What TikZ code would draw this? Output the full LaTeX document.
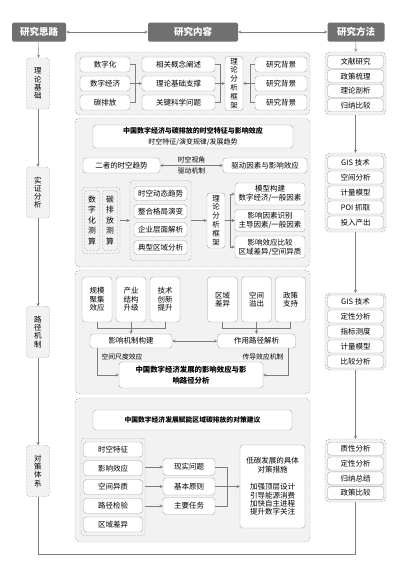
\documentclass[tikz,border=0pt]{standalone}
\usepackage{fontspec}
\setmainfont{Noto Sans CJK SC}
\usetikzlibrary{shapes.geometric, arrows, positioning}
\definecolor{headgray}{RGB}{112,112,112}
\definecolor{panelgray}{RGB}{242,242,242}
\definecolor{boxgray}{RGB}{165,165,165}
\definecolor{linegray}{RGB}{125,125,125}
\tikzstyle{head} = [rectangle, rounded corners=1.5pt, fill=headgray, text=white, font=\fontsize{9.5}{11}\selectfont\bfseries, minimum height=19pt, inner sep=0pt]
\tikzstyle{panel} = [rectangle, rounded corners=5pt, draw=boxgray, dash pattern=on 2pt off 1.2pt, fill=panelgray, inner sep=0pt]
\tikzstyle{dashgroup} = [rectangle, rounded corners=3pt, draw=boxgray, dash pattern=on 2pt off 1.2pt, inner sep=0pt, align=center]
\tikzstyle{stage} = [dashgroup, fill=panelgray, minimum width=23pt, minimum height=51pt, font=\fontsize{7.5}{8.2}\selectfont]
\tikzstyle{item} = [rectangle, rounded corners=3pt, draw=boxgray, fill=white, inner sep=0pt, align=center, font=\fontsize{7.5}{9}\selectfont]
\tikzstyle{method} = [item, minimum width=56pt, minimum height=13pt]
\tikzstyle{tag} = [font=\fontsize{6.8}{8}\selectfont, inner sep=1pt]
\tikzstyle{arrow} = [->, >=stealth, draw=linegray]
\tikzstyle{link} = [draw=linegray]

\begin{document}
\begin{tikzpicture}[x=1pt, y=-1pt]
\useasboundingbox (0,0) rectangle (400,566);

\node (siLu) [head, minimum width=54pt] at (39,32) {研究思路};
\node (neiRong) [head, minimum width=90pt] at (193,32) {研究内容};
\node (fangFa) [head, minimum width=57pt] at (356,32) {研究方法};

\node (jiChu) [stage] at (38,83.5) {理\\论\\基\\础};
\node (shiZheng) [stage] at (38,192.5) {实\\证\\分\\析};
\node (luJing) [stage] at (38,332) {路\\径\\机\\制};
\node (duiCe) [stage] at (38,471) {对\\策\\体\\系};

\node (sec1) [panel, minimum width=235pt, minimum height=63pt] at (192.5,83.5) {};
\node (sec2) [panel, minimum width=235pt, minimum height=149pt] at (192.5,192.5) {};
\node (sec3) [panel, minimum width=235pt, minimum height=124pt] at (192.5,332) {};
\node (sec4) [panel, minimum width=235pt, minimum height=144pt] at (192.5,470) {};

\node (fm1) [panel, minimum width=61pt, minimum height=63pt] at (355.5,83.5) {};
\node (fm2) [panel, minimum width=61pt, minimum height=79pt] at (355.5,192.5) {};
\node (fm3) [panel, minimum width=61pt, minimum height=77pt] at (355.5,331.5) {};
\node (fm4) [panel, minimum width=61pt, minimum height=63pt] at (355.5,470.5) {};

\node (wenXian) [method] at (355.5,61.75) {文献研究};
\node (zhengCe) [method, below of=wenXian, node distance=14.5pt] {政策梳理};
\node (pouXi) [method, below of=zhengCe, node distance=14.5pt] {理论剖析};
\node (guiNa) [method, below of=pouXi, node distance=14.5pt] {归纳比较};

\node (gisA) [method] at (355.5,162.5) {GIS 技术};
\node (kongJian) [method, below of=gisA, node distance=15pt] {空间分析};
\node (jiLiangA) [method, below of=kongJian, node distance=15pt] {计量模型};
\node (poi) [method, below of=jiLiangA, node distance=15pt] {POI 抓取};
\node (touRu) [method, below of=poi, node distance=15pt] {投入产出};

\node (gisB) [method] at (355.5,301.5) {GIS 技术};
\node (dingXingA) [method, below of=gisB, node distance=15pt] {定性分析};
\node (zhiBiao) [method, below of=dingXingA, node distance=15pt] {指标测度};
\node (jiLiangB) [method, below of=zhiBiao, node distance=15pt] {计量模型};
\node (biJiao) [method, below of=jiLiangB, node distance=15pt] {比较分析};

\node (zhiXing) [method] at (355.5,448.7) {质性分析};
\node (dingXingB) [method, below of=zhiXing, node distance=14.8pt] {定性分析};
\node (zongJie) [method, below of=dingXingB, node distance=14.8pt] {归纳总结};
\node (zhengCeBj) [method, below of=zongJie, node distance=14.8pt] {政策比较};

\node (shuZiHua) [item, minimum width=50pt, minimum height=15pt] at (105,64.5) {数字化};
\node (shuZiJingJi) [item, minimum width=50pt, minimum height=15pt, below of=shuZiHua, node distance=19pt] {数字经济};
\node (tanPaiFang) [item, minimum width=50pt, minimum height=15pt, below of=shuZiJingJi, node distance=19pt] {碳排放};
\node (gaiNian) [item, minimum width=73pt, minimum height=15pt] at (178.5,64.5) {相关概念阐述};
\node (zhiCheng) [item, minimum width=73pt, minimum height=15pt, below of=gaiNian, node distance=19pt] {理论基础支撑};
\node (wenTi) [item, minimum width=73pt, minimum height=15pt, below of=zhiCheng, node distance=19pt] {关键科学问题};
\node (kuangJiaA) [item, minimum width=18pt, minimum height=54pt, font=\fontsize{7.5}{8.8}\selectfont] at (234,83.5) {理\\论\\分\\析\\框\\架};
\node (beiJingA) [item, minimum width=52pt, minimum height=15pt] at (281,64.5) {研究背景};
\node (beiJingB) [item, minimum width=52pt, minimum height=15pt, below of=beiJingA, node distance=19pt] {研究背景};
\node (beiJingC) [item, minimum width=52pt, minimum height=15pt, below of=beiJingB, node distance=19pt] {研究背景};
\coordinate (jA) at (135,83.5);
\coordinate (jB) at (220,83.5);
\coordinate (jC) at (250,83.5);

\node (tiMuA) [item, minimum width=200pt, minimum height=23pt, font=\fontsize{7}{11}\selectfont] at (193,136.5) {\bfseries 中国数字经济与碳排放的时空特征与影响效应\\时空特征/演变规律/发展趋势};
\node (erZhe) [item, minimum width=77pt, minimum height=15pt] at (121.5,165.5) {二者的时空趋势};
\node (quDong) [item, minimum width=84pt, minimum height=15pt] at (265,165.5) {驱动因素与影响效应};
\node (ceSuan) [dashgroup, minimum width=38pt, minimum height=66pt] at (101,220.5) {};
\node (ceSuanA) [dashgroup, minimum width=15pt, minimum height=60pt, font=\fontsize{7.8}{10.5}\selectfont] at (92,220.5) {数\\字\\化\\测\\算};
\node (ceSuanB) [dashgroup, minimum width=15pt, minimum height=60pt, font=\fontsize{7.8}{10.5}\selectfont] at (110,220.5) {碳\\排\\放\\测\\算};
\node (qushi) [dashgroup, minimum width=61pt, minimum height=80pt] at (160.5,220.5) {};
\node (dongTai) [item, minimum width=53pt, minimum height=14pt] at (160.5,193.5) {时空动态趋势};
\node (geJu) [item, minimum width=53pt, minimum height=14pt, below of=dongTai, node distance=18pt] {整合格局演变};
\node (qiYe) [item, minimum width=53pt, minimum height=14pt, below of=geJu, node distance=18pt] {企业层面解析};
\node (dianXing) [item, minimum width=53pt, minimum height=14pt, below of=qiYe, node distance=18pt] {典型区域分析};
\node (kuangJiaB) [item, minimum width=18pt, minimum height=55pt, font=\fontsize{7.5}{8.8}\selectfont] at (216,220.5) {理\\论\\分\\析\\框\\架};
\node (moXing) [item, minimum width=70pt, minimum height=22pt] at (270,194) {模型构建\\数字经济/一般因素};
\node (shiBie) [item, minimum width=70pt, minimum height=22pt, below of=moXing, node distance=26.5pt] {影响因素识别\\主导因素/一般因素};
\node (xiaoYing) [item, minimum width=70pt, minimum height=22pt, below of=shiBie, node distance=26.5pt] {影响效应比较\\区域差异/空间异质};
\coordinate (jD) at (230,220.5);

\node (guiMo) [item, minimum width=30pt, minimum height=45pt, font=\fontsize{7.5}{8.6}\selectfont] at (97,299.5) {规模\\聚集\\效应};
\node (chanYe) [item, minimum width=30pt, minimum height=45pt, font=\fontsize{7.5}{8.6}\selectfont] at (131,299.5) {产业\\结构\\升级};
\node (jiShu) [item, minimum width=30pt, minimum height=45pt, font=\fontsize{7.5}{8.6}\selectfont] at (165,299.5) {技术\\创新\\提升};
\node (quYu) [item, minimum width=30pt, minimum height=45pt, font=\fontsize{7.5}{8.6}\selectfont] at (222.5,299.5) {区域\\差异};
\node (yiChu) [item, minimum width=30pt, minimum height=45pt, font=\fontsize{7.5}{8.6}\selectfont] at (256.5,299.5) {空间\\溢出};
\node (zhiChi) [item, minimum width=30pt, minimum height=45pt, font=\fontsize{7.5}{8.6}\selectfont] at (290.5,299.5) {政策\\支持};
\node (jiZhi) [item, minimum width=82pt, minimum height=14pt] at (131,341) {影响机制构建};
\node (zuoYong) [item, minimum width=78pt, minimum height=14pt] at (256.5,341) {作用路径解析};
\node (lujingFx) [item, minimum width=144pt, minimum height=26pt, font=\fontsize{7.4}{10.5}\selectfont\bfseries] at (191,375) {中国数字经济发展的影响效应与影\\响路径分析};
\node (chiDu) [tag] at (122,357) {空间尺度效应};
\node (chuanDao) [tag] at (263,357) {传导效应机制};
\coordinate (jE) at (131,328);
\coordinate (jF) at (256.5,328);

\node (tiMuB) [item, minimum width=199pt, minimum height=20pt, font=\fontsize{6.8}{8}\selectfont\bfseries] at (192.5,420) {中国数字经济发展赋能区域碳排放的对策建议};
\node (jieGuo) [dashgroup, minimum width=64pt, minimum height=97pt] at (113,487) {};
\node (teZheng) [item, minimum width=59pt, minimum height=15pt] at (113,449.5) {时空特征};
\node (yingXiang) [item, minimum width=59pt, minimum height=15pt, below of=teZheng, node distance=18.75pt] {影响效应};
\node (yiZhi) [item, minimum width=59pt, minimum height=15pt, below of=yingXiang, node distance=18.75pt] {空间异质};
\node (jianYan) [item, minimum width=59pt, minimum height=15pt, below of=yiZhi, node distance=18.75pt] {路径检验};
\node (chaYi) [item, minimum width=59pt, minimum height=15pt, below of=jianYan, node distance=18.75pt] {区域差异};
\node (xianShi) [item, minimum width=52pt, minimum height=17pt] at (189,467) {现实问题};
\node (yuanZe) [item, minimum width=52pt, minimum height=17pt, below of=xianShi, node distance=19.5pt] {基本原则};
\node (renWu) [item, minimum width=52pt, minimum height=17pt, below of=yuanZe, node distance=19.5pt] {主要任务};
\node (cuoShi) [item, minimum width=65pt, minimum height=83pt, font=\fontsize{7.5}{8.4}\selectfont] at (272.5,486.5) {低碳发展的具体\\对策措施\\[9pt]加强顶层设计\\引导能源消费\\加快自主进程\\提升数字关注};
\coordinate (jG) at (227,486.5);

\coordinate (loopL) at (38,554);
\coordinate (loopR) at (355.5,554);

\draw [arrow, <->] (siLu) -- (neiRong);
\draw [arrow, <->] (neiRong) -- (fangFa);
\draw [arrow] (siLu) -- (jiChu);
\draw [arrow] (jiChu) -- (shiZheng);
\draw [arrow] (shiZheng) -- (luJing);
\draw [arrow] (luJing) -- (duiCe);
\draw [arrow] (fangFa) -- (fm1);
\draw [arrow] (fm1) -- (fm2);
\draw [arrow] (fm2) -- (fm3);
\draw [arrow] (fm3) -- (fm4);
\draw [link] (duiCe) -- (loopL) -- (loopR) -- (fm4);

\draw [link] (shuZiHua.east) -| (jA);
\draw [link] (tanPaiFang.east) -| (jA);
\draw [link] (shuZiJingJi) -- (jA);
\draw [arrow] (jA) -- (zhiCheng);
\draw [link] (gaiNian.east) -| (jB);
\draw [link] (wenTi.east) -| (jB);
\draw [link] (zhiCheng) -- (jB);
\draw [arrow] (jB) -- (kuangJiaA);
\draw [link] (beiJingA.west) -| (jC);
\draw [link] (beiJingC.west) -| (jC);
\draw [link] (beiJingB) -- (jC);
\draw [arrow] (jC) -- (kuangJiaA);

\draw [arrow, <->] (erZhe) -- node [tag, above=1pt] {时空视角} node [tag, below=1pt] {驱动机制} (quDong);
\draw [arrow] (ceSuan) -- (qushi);
\draw [arrow] (qushi) -- (kuangJiaB);
\draw [link] (kuangJiaB) -- (jD);
\draw [arrow] (jD) |- (moXing.west);
\draw [arrow] (jD) -- (shiBie);
\draw [arrow] (jD) |- (xiaoYing.west);

\draw [link] (guiMo.south) |- (jE);
\draw [link] (jiShu.south) |- (jE);
\draw [link] (chanYe) -- (jE);
\draw [arrow] (jE) -- (jiZhi);
\draw [link] (quYu.south) |- (jF);
\draw [link] (zhiChi.south) |- (jF);
\draw [link] (yiChu) -- (jF);
\draw [arrow] (jF) -- (zuoYong);
\draw [arrow, <->] (jiZhi) -- (zuoYong);
\draw [arrow] ([xshift=7pt]jiZhi.south west) |- (lujingFx.west);
\draw [arrow] ([xshift=-7.5pt]zuoYong.south east) |- (lujingFx.east);

\draw [arrow] (xianShi.west -| jieGuo.east) -- (xianShi);
\draw [arrow] (yuanZe.west -| jieGuo.east) -- (yuanZe);
\draw [arrow] (renWu.west -| jieGuo.east) -- (renWu);
\draw [link] (xianShi.east) -| (jG);
\draw [link] (renWu.east) -| (jG);
\draw [link] (yuanZe) -- (jG);
\draw [arrow] (jG) -- (cuoShi);

\end{tikzpicture}
\end{document}
